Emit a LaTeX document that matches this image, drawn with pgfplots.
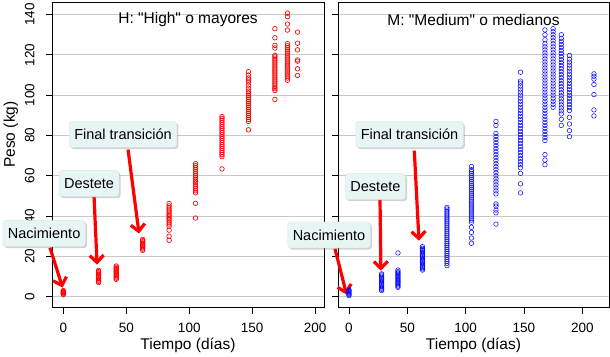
\documentclass[border=0pt]{standalone}
\usepackage{fontspec}
\setmainfont{Liberation Sans}
\usepackage{pgfplots}
\pgfplotsset{compat=1.18}
\usetikzlibrary{arrows.meta,shadows}
\definecolor{boxfill}{RGB}{232,245,245}
\definecolor{gridgray}{RGB}{200,200,200}
\pgfplotsset{
 panel/.style={
  scale only axis, height=305pt, set layers,
  ymin=-5.4, ymax=146,
  ytick={0,20,...,140},
  xtick={0,50,100,150,200},
  tick pos=left, tick align=outside, major tick length=6pt,
  ymajorgrids, grid style={gridgray, line width=0.8pt},
  axis line style={line width=1pt},
  major tick style={black, line width=0.9pt},
  tick label style={font=\fontsize{13.5}{15}\selectfont},
  /pgf/number format/assume math mode=true,
  yticklabel style={rotate=90, anchor=south},
  xticklabel shift=6pt, yticklabel shift=8pt,
  clip=false,
  label style={font=\fontsize{15.5}{18}\selectfont},
  xlabel={Tiempo (días)},
  xlabel style={at={(axis description cs:0.5,-0.1246)}, anchor=center},
 },
}
\tikzset{
 callout/.style={fill=boxfill, draw=boxfill!85!gray, line width=0.4pt, rounded corners=3pt,
   drop shadow={shadow xshift=1.6pt, shadow yshift=-1.6pt, opacity=0.35, fill=gray},
   font=\fontsize{14.5}{17}\selectfont, minimum height=26pt, inner xsep=5pt},
 arr/.style={red, line width=3.2pt, -{Straight Barb[length=7pt,width=14pt]}},
 ttl/.style={font=\fontsize{15.5}{18}\selectfont},
}
\begin{document}
\begin{tikzpicture}
\path (0,0) rectangle (610pt,356pt);
% ---------------- Left panel: H
\begin{axis}[panel, at={(52pt,49pt)}, anchor=south west, width=272pt,
  xmin=-9, xmax=207,
  ylabel={Peso (kg)},
  ylabel style={at={(axis description cs:-0.151,0.567)}, anchor=center}]
\addplot[only marks, mark=o, color=red, mark size=2.3pt, mark options={line width=0.65pt}] coordinates {
(0,1.0)(0,1.4)(0,1.8)(0,2.0)(0,2.3)(0,2.6)(0,3.0)
(28,7.0)(28,7.6)(28,8.2)(28,8.8)(28,9.4)(28,10.0)(28,10.6)(28,11.2)(28,11.8)(28,12.4)(28,13.0)
(42,8.6)(42,9.2)(42,9.8)(42,10.4)(42,11.0)(42,11.6)(42,12.2)(42,12.8)(42,13.4)(42,14.0)(42,14.6)(42,15.2)
(63,23.0)(63,23.6)(63,24.2)(63,24.8)(63,25.4)(63,26.0)(63,26.6)(63,27.2)(63,27.8)(63,28.4)
(84,28.0)(84,30.0)(84,33.0)(84,35.0)(84,36.0)(84,37.0)(84,38.0)(84,38.7)(84,39.5)(84,40.3)(84,41.0)(84,42.0)(84,43.0)(84,44.0)(84,45.0)(84,46.2)
(105,39.0)(105,46.3)(105,51.5)(105,52.5)(105,53.5)(105,54.5)(105,55.5)(105,56.5)(105,57.3)(105,58.0)(105,59.0)(105,60.0)(105,61.0)(105,62.0)(105,63.0)(105,64.0)(105,65.0)(105,66.0)
(126,63.4)(126,69.5)(126,70.5)(126,71.5)(126,72.5)(126,73.5)(126,74.5)(126,75.5)(126,76.5)(126,77.5)(126,78.5)(126,79.5)(126,80.5)(126,81.5)(126,82.5)(126,83.5)(126,84.5)(126,85.5)(126,86.5)(126,87.5)(126,88.5)(126,89.4)
(147,82.8)(147,87.0)(147,88.0)(147,89.0)(147,90.0)(147,91.0)(147,92.0)(147,93.0)(147,94.0)(147,95.0)(147,96.0)(147,97.0)(147,98.0)(147,99.0)(147,100.0)(147,101.0)(147,102.0)(147,103.5)(147,105.0)(147,106.5)(147,107.5)(147,108.5)(147,110.0)(147,111.7)
(168,97.9)(168,102.3)(168,103.2)(168,104.0)(168,105.0)(168,106.0)(168,107.0)(168,108.0)(168,109.0)(168,110.0)(168,111.0)(168,112.0)(168,113.0)(168,114.0)(168,115.0)(168,116.0)(168,117.0)(168,118.0)(168,119.0)(168,119.7)(168,123.4)(168,124.7)(168,128.5)(168,133.0)
(178,107.4)(178,108.5)(178,109.5)(178,110.5)(178,111.5)(178,112.5)(178,113.5)(178,114.5)(178,115.5)(178,116.5)(178,117.5)(178,118.5)(178,119.5)(178,120.5)(178,121.5)(178,122.5)(178,123.5)(178,124.5)(178,125.6)(178,132.3)(178,135.3)(178,139.0)(178,140.7)
(186,109.8)(186,113.1)(186,116.9)(186,117.5)(186,122.5)(186,125.8)(186,131.3)
};
\node[ttl] at (axis description cs:0.5,0.944) {H: \textquotedbl High\textquotedbl{} o mayores};
\draw[arr] (axis cs:-10.6,24.3) -- (axis cs:-0.6,4.5);
\draw[arr] (axis cs:24.4,49.7) -- (axis cs:26.8,15.9);
\draw[arr] (axis cs:51.4,73) -- (axis cs:60.1,31.3);
\node[callout] at (axis cs:-15.3,31.3) {Nacimiento};
\node[callout] at (axis cs:20.4,56.1) {Destete};
\node[callout] at (axis cs:47.4,80.5) {Final transición};
\end{axis}
% ---------------- Right panel: M
\begin{axis}[panel, at={(338pt,49pt)}, anchor=south west, width=271pt,
  xmin=-9.4, xmax=222.9, yticklabels={}]
\addplot[only marks, mark=o, color=blue, mark size=2.3pt, mark options={line width=0.5pt}] coordinates {
(0,0.5)(0,1.0)(0,1.5)(0,2.0)(0,2.5)(0,3.0)(0,3.4)
(28,3.0)(28,3.6)(28,4.2)(28,4.8)(28,5.4)(28,6.0)(28,6.6)(28,7.2)(28,7.8)(28,8.4)(28,9.0)(28,9.6)(28,10.2)(28,10.8)(28,11.3)
(42,4.6)(42,5.2)(42,5.8)(42,6.4)(42,7.0)(42,7.6)(42,8.2)(42,8.8)(42,9.4)(42,10.0)(42,10.6)(42,11.2)(42,11.8)(42,12.4)(42,13.2)(42,21.7)
(63,13.2)(63,13.8)(63,14.4)(63,15.0)(63,15.6)(63,16.2)(63,16.8)(63,17.4)(63,18.0)(63,18.6)(63,19.2)(63,19.8)(63,20.4)(63,21.0)(63,21.6)(63,22.2)(63,22.8)(63,23.4)(63,24.0)(63,24.8)
(84,15.4)(84,16.5)(84,17.5)(84,18.5)(84,19.5)(84,20.5)(84,21.5)(84,22.5)(84,23.5)(84,24.5)(84,25.5)(84,26.5)(84,27.5)(84,28.5)(84,29.5)(84,30.5)(84,31.5)(84,32.5)(84,33.5)(84,34.5)(84,35.5)(84,36.5)(84,37.5)(84,38.5)(84,39.5)(84,40.5)(84,41.5)(84,42.5)(84,43.5)(84,44.3)
(105,26.5)(105,29.1)(105,31.9)(105,34.4)(105,36.9)(105,38)(105,39)(105,40)(105,41)(105,42)(105,43)(105,44)(105,45)(105,46)(105,47)(105,48)(105,49)(105,50)(105,51)(105,52)(105,53)(105,54)(105,55)(105,56)(105,57)(105,58)(105,59)(105,60)(105,61)(105,62)(105,63)(105,64.6)
(126,36)(126,41.6)(126,43)(126,44.9)(126,46)(126,51)(126,52.5)(126,54)(126,55.5)(126,57)(126,58.5)(126,60)(126,61.5)(126,63)(126,64.5)(126,66)(126,67.5)(126,69)(126,70.5)(126,72)(126,73.5)(126,75)(126,76.5)(126,78)(126,79.5)(126,81)(126,85)(126,87)
(147,51.5)(147,56)(147,61.2)(147,64)(147,65.5)(147,67)(147,68.5)(147,70)(147,71.5)(147,73)(147,74.5)(147,76)(147,77.5)(147,79)(147,80.5)(147,82)(147,83.5)(147,85)(147,86.5)(147,88)(147,89.5)(147,91)(147,92.5)(147,94)(147,95.5)(147,97)(147,98.5)(147,100)(147,101.5)(147,103)(147,104.5)(147,106)(147,107)(147,111.4)
(168,65.5)(168,67.8)(168,70.5)(168,77.5)(168,79)(168,80.5)(168,82)(168,83.5)(168,85)(168,86.5)(168,88)(168,89.5)(168,91)(168,92.5)(168,94)(168,95.5)(168,97)(168,98.5)(168,100)(168,101.5)(168,103)(168,104.5)(168,106)(168,107.5)(168,109)(168,110.5)(168,112)(168,113.5)(168,115)(168,116.5)(168,118)(168,119.5)(168,121)(168,122.5)(168,124)(168,125.5)(168,127.5)(168,130)(168,132.4)
(175,94)(175,95.5)(175,97)(175,98.5)(175,100)(175,101.5)(175,103)(175,104.5)(175,106)(175,107.5)(175,109)(175,110.5)(175,112)(175,113.5)(175,115)(175,116.5)(175,118)(175,119.5)(175,121)(175,122.5)(175,124)(175,125.5)(175,127)(175,128.5)(175,130)(175,131.5)(175,133)
(182,85)(182,88)(182,90.7)(182,92.2)(182,93.7)(182,95.2)(182,96.7)(182,98.2)(182,99.7)(182,101.2)(182,102.7)(182,104.2)(182,105.7)(182,107.2)(182,108.7)(182,110.2)(182,111.7)(182,113.2)(182,114.7)(182,116.2)(182,117.7)(182,119.2)(182,120.7)(182,122.2)(182,123.7)(182,125.2)(182,126.7)(182,128.2)(182,130)
(189,79.4)(189,82.4)(189,85.7)(189,89)(189,92.4)(189,93.9)(189,95.4)(189,96.9)(189,98.4)(189,99.9)(189,101.4)(189,102.9)(189,104.4)(189,105.9)(189,107.4)(189,108.9)(189,110.4)(189,111.9)(189,113.4)(189,114.9)(189,116.4)(189,117.9)(189,119.7)
(210,89.7)(210,92.7)(210,100.3)(210,105.3)(210,108)(210,109.4)(210,110.6)
};
\node[ttl] at (axis description cs:0.5,0.944) {M: \textquotedbl Medium\textquotedbl{} o medianos};
\draw[arr] (axis cs:-12,23.8) -- (axis cs:-2,1);
\draw[arr] (axis cs:26.6,48.7) -- (axis cs:27.4,12.9);
\draw[arr] (axis cs:56,72.5) -- (axis cs:60,27.8);
\node[callout] at (axis cs:-17.1,30.6) {Nacimiento};
\node[callout] at (axis cs:22.7,54.6) {Destete};
\node[callout] at (axis cs:51.9,80.5) {Final transición};
\end{axis}
\end{tikzpicture}
\end{document}
